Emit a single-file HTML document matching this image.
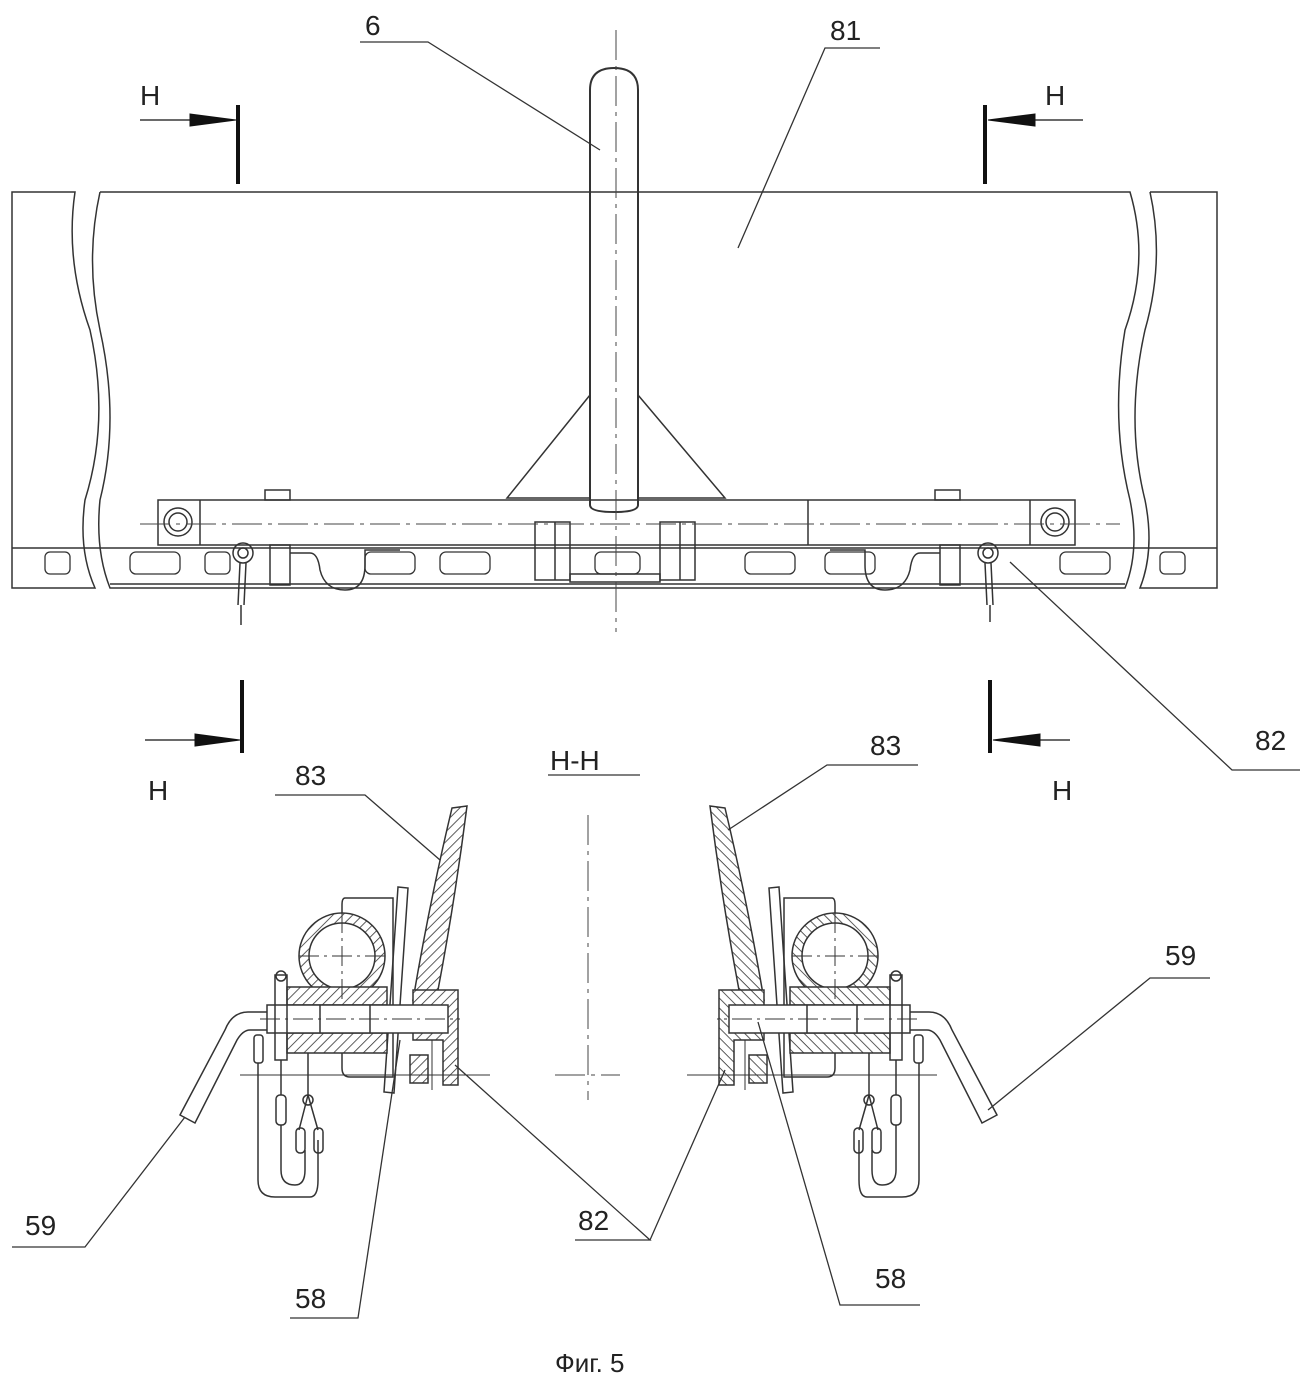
<!DOCTYPE html>
<html><head><meta charset="utf-8"><style>
html,body{margin:0;padding:0;background:#fff}
svg{display:block}
text{font-family:"Liberation Sans",sans-serif;font-size:28px;fill:#222}
</style></head><body>
<svg width="1309" height="1380" viewBox="0 0 1309 1380" xmlns="http://www.w3.org/2000/svg">
<defs>
<pattern id="h" width="7" height="7" patternUnits="userSpaceOnUse" patternTransform="rotate(45)">
<rect width="7" height="7" fill="#fff"/><line x1="0" y1="0" x2="0" y2="7" stroke="#333" stroke-width="1.6"/>
</pattern>
</defs>
<g fill="none" stroke="#333" stroke-width="1.5">
<!-- top panel -->
<path d="M12 192 H75 Q65 260 90 330 Q110 420 85 500 Q78 550 95 588 H12 Z"/>
<path d="M100 192 H1130 Q1150 260 1125 330 Q1110 420 1130 500 Q1140 550 1125 588 H110 Q95 550 100 500 Q120 420 100 330 Q85 260 100 192"/>
<path d="M1150 192 H1217 V588 H1140 Q1155 550 1145 500 Q1125 420 1145 330 Q1165 260 1150 192"/>
<line x1="12" y1="548" x2="1217" y2="548"/>
<line x1="110" y1="584" x2="1125" y2="584"/>
<!-- slots -->
<g stroke-width="1.3">
<rect x="45" y="552" width="25" height="22" rx="5"/><rect x="130" y="552" width="50" height="22" rx="6"/>
<rect x="205" y="552" width="25" height="22" rx="5"/><rect x="365" y="552" width="50" height="22" rx="6"/>
<rect x="440" y="552" width="50" height="22" rx="6"/><rect x="595" y="552" width="45" height="22" rx="6"/>
<rect x="745" y="552" width="50" height="22" rx="6"/><rect x="825" y="552" width="50" height="22" rx="6"/>
<rect x="1060" y="552" width="50" height="22" rx="6"/><rect x="1160" y="552" width="25" height="22" rx="5"/>
</g>
<!-- pole -->
<path d="M590 505 V90 Q590 68 614 68 Q638 68 638 90 V505 Q638 512 614 512 Q590 512 590 505 Z" stroke-width="2"/>
<path d="M590 395 L507 498 H590 M638 395 L725 498 H638"/>
<!-- beam -->
<rect x="158" y="500" width="917" height="45"/>
<line x1="200" y1="500" x2="200" y2="545"/><line x1="1030" y1="500" x2="1030" y2="545"/>
<line x1="808" y1="500" x2="808" y2="545"/>
<circle cx="178" cy="522" r="14"/><circle cx="178" cy="522" r="9"/>
<circle cx="1055" cy="522" r="14"/><circle cx="1055" cy="522" r="9"/>
<rect x="265" y="490" width="25" height="10"/><rect x="935" y="490" width="25" height="10"/>
<rect x="535" y="522" width="35" height="58"/><rect x="660" y="522" width="35" height="58"/>
<line x1="555" y1="522" x2="555" y2="580"/><line x1="680" y1="522" x2="680" y2="580"/>
<rect x="570" y="574" width="90" height="8"/>
<rect x="270" y="545" width="20" height="40"/><rect x="940" y="545" width="20" height="40"/>
<path d="M290 553 H310 Q318 553 320 570 Q325 590 345 590 Q365 590 365 565 V550 H400"/>
<path d="M940 553 H920 Q912 553 910 570 Q905 590 885 590 Q865 590 865 565 V550 H830"/>
<circle cx="243" cy="553" r="10"/><circle cx="243" cy="553" r="5"/>
<circle cx="988" cy="553" r="10"/><circle cx="988" cy="553" r="5"/>
<path d="M240 563 L238 605 M246 563 L244 605 M241 605 V625"/>
<path d="M985 563 L987 605 M991 563 L993 605 M990 605 V622"/>
</g>
<!-- centerlines -->
<g stroke="#444" stroke-width="1" stroke-dasharray="30 6 4 6" fill="none">
<line x1="616" y1="30" x2="616" y2="632"/>
<line x1="140" y1="524" x2="1120" y2="524"/>
<line x1="588" y1="815" x2="588" y2="1100"/>
<line x1="555" y1="1075" x2="620" y2="1075"/>
</g>
<!-- section markers -->
<g stroke="#111" fill="#111">
<line x1="238" y1="105" x2="238" y2="184" stroke-width="4"/>
<line x1="140" y1="120" x2="200" y2="120" stroke-width="1.2"/><path d="M190 114 L236 120 L190 126 Z"/>
<line x1="985" y1="105" x2="985" y2="184" stroke-width="4"/>
<line x1="1083" y1="120" x2="1025" y2="120" stroke-width="1.2"/><path d="M1035 114 L988 120 L1035 126 Z"/>
<line x1="242" y1="680" x2="242" y2="753" stroke-width="4"/>
<line x1="145" y1="740" x2="200" y2="740" stroke-width="1.2"/><path d="M195 734 L240 740 L195 746 Z"/>
<line x1="990" y1="680" x2="990" y2="753" stroke-width="4"/>
<line x1="1070" y1="740" x2="1030" y2="740" stroke-width="1.2"/><path d="M1040 734 L993 740 L1040 746 Z"/>
</g>
<!-- section left, mirrored for right -->
<g id="sec" fill="none" stroke="#333" stroke-width="1.5">
<path d="M452 808 L467 806 Q455 900 438 990 L413 1000 Q430 900 452 808 Z" fill="url(#h)"/>
<path d="M413 990 H458 V1085 H443 V1040 H413 Z" fill="url(#h)"/>
<rect x="410" y="1055" width="18" height="28" fill="url(#h)"/>
<path d="M345 898 H393 V1077 H350 Q342 1077 342 1068 V1053 M342 987 V905 Q342 898 345 898"/>
<path d="M398 887 L408 888 L394 1093 L384 1092 Z"/>
<circle cx="342" cy="956" r="43" fill="url(#h)"/>
<circle cx="342" cy="956" r="33" fill="#fff"/>
<path d="M287 987 H387 V1005 H287 Z M287 1033 H387 V1053 H287 Z" fill="url(#h)"/>
<rect x="267" y="1005" width="181" height="28" fill="#fff"/>
<line x1="370" y1="1005" x2="370" y2="1033"/><line x1="320" y1="1005" x2="320" y2="1033"/>
<rect x="275" y="975" width="12" height="85"/>
<circle cx="281" cy="976" r="5"/>
<path d="M267 1012 H248 Q232 1012 225 1030 L180 1115 L195 1123 L237 1040 Q243 1030 250 1030 H267"/>
<rect x="254" y="1035" width="9" height="28" rx="3"/>
<path d="M258 1063 V1180 Q258 1197 275 1197 H310 Q318 1197 318 1180 V1140"/>
<rect x="276" y="1095" width="10" height="30" rx="4"/>
<path d="M281 1060 V1095 M281 1125 V1170 Q281 1185 295 1185 Q305 1185 305 1170 V1150"/>
<path d="M308 1053 V1095 M308 1095 L299 1130 M308 1095 L318 1130"/>
<circle cx="308" cy="1100" r="5"/>
<rect x="296" y="1128" width="9" height="25" rx="4"/><rect x="314" y="1128" width="9" height="25" rx="4"/>
<line x1="240" y1="1075" x2="490" y2="1075" stroke-width="1"/>
<line x1="299" y1="956" x2="385" y2="956" stroke-width="1" stroke-dasharray="20 5 3 5"/>
<line x1="342" y1="913" x2="342" y2="999" stroke-width="1" stroke-dasharray="20 5 3 5"/>
<line x1="260" y1="1019" x2="460" y2="1019" stroke-width="1" stroke-dasharray="20 5 3 5"/>
<line x1="432" y1="1040" x2="432" y2="1090" stroke-width="1"/>
</g>
<use href="#sec" transform="translate(1177,0) scale(-1,1)"/>
<!-- leaders -->
<g stroke="#333" stroke-width="1.3" fill="none">
<path d="M360 42 H428 L600 150"/>
<path d="M880 48 H825 L738 248"/>
<path d="M1300 770 H1232 L1010 562"/>
<path d="M275 795 H365 L440 860"/>
<path d="M918 765 H827 L728 830"/>
<path d="M1210 978 H1150 L988 1110"/>
<path d="M12 1247 H85 L185 1117"/>
<path d="M290 1318 H358 L400 1040"/>
<path d="M920 1305 H840 L758 1022"/>
<path d="M575 1240 H650 L455 1065 M650 1240 L725 1070"/>
<line x1="548" y1="775" x2="640" y2="775"/>
</g>
<text x="365" y="35">6</text><text x="830" y="40">81</text>
<text x="140" y="105">Н</text><text x="1045" y="105">Н</text>
<text x="148" y="800">Н</text><text x="1052" y="800">Н</text>
<text x="550" y="770">Н-Н</text>
<text x="295" y="785">83</text><text x="870" y="755">83</text>
<text x="1255" y="750">82</text><text x="1165" y="965">59</text>
<text x="25" y="1235">59</text><text x="578" y="1230">82</text>
<text x="295" y="1308">58</text><text x="875" y="1288">58</text>
<text x="555" y="1372" style="font-size:26px">Фиг. 5</text>
</svg>
</body></html>
